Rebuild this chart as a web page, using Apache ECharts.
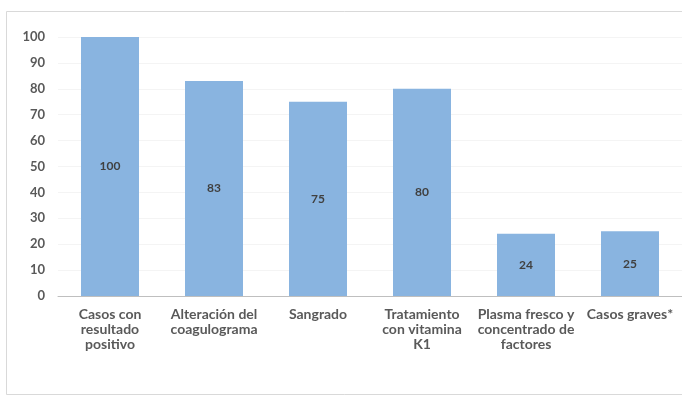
<!DOCTYPE html>
<html>
<head>
<meta charset="utf-8">
<script src="https://cdn.jsdelivr.net/npm/echarts@6/dist/echarts.min.js"></script>
<style>
  html, body { margin: 0; padding: 0; background: #fff; }
  #chart { width: 682px; height: 397px; }
</style>
</head>
<body>
<div id="chart"></div>
<script>
// Categories (axis labels) and percentages per category
const categories = [
  'Casos con\nresultado\npositivo',
  'Alteración del\ncoagulograma',
  'Sangrado',
  'Tratamiento\ncon vitamina\nK1',
  'Plasma fresco y\nconcentrado de\nfactores',
  'Casos graves*'
];
const values = [100, 83, 75, 80, 24, 25];
const yTicks = { min: 0, max: 100, interval: 10 };

const chart = echarts.init(document.getElementById('chart'), null, { renderer: 'canvas' });
const font = 'Lato, "Open Sans", sans-serif';

chart.setOption({
  animation: false,
  backgroundColor: '#ffffff',
  graphic: [{
    type: 'rect',
    shape: { x: 6.5, y: 11.5, width: 690, height: 383 },
    style: { fill: 'none', stroke: '#d9d9d9', lineWidth: 1 },
    silent: true
  }],
  grid: { left: 58, right: 0, top: 37, bottom: 101, containLabel: false },
  xAxis: {
    type: 'category',
    data: categories,
    axisTick: { show: false },
    axisLine: { lineStyle: { color: '#bfbfbf', width: 1 } },
    axisLabel: {
      interval: 0,
      margin: 11,
      color: '#595959',
      fontFamily: font,
      fontWeight: 'bold',
      fontSize: 14,
      lineHeight: 15,
      align: 'center'
    }
  },
  yAxis: {
    type: 'value',
    min: yTicks.min,
    max: yTicks.max,
    interval: yTicks.interval,
    axisLine: { show: false },
    axisTick: { show: false },
    splitLine: { lineStyle: { color: '#f4f4f4', width: 1 } },
    axisLabel: {
      margin: 13,
      color: '#595959',
      fontFamily: font,
      fontWeight: 'bold',
      fontSize: 13
    }
  },
  series: [{
    type: 'bar',
    data: values,
    barWidth: 58,
    itemStyle: { color: '#89b4e0' },
    label: {
      show: true,
      position: 'inside',
      color: '#404040',
      fontFamily: font,
      fontWeight: 'bold',
      fontSize: 12
    }
  }]
});
</script>
</body>
</html>
